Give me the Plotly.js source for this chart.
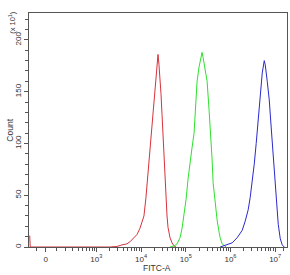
<!DOCTYPE html>
<html>
<head>
<meta charset="utf-8">
<script src="https://cdn.plot.ly/plotly-3.0.1.min.js"></script>
<style>html,body{margin:0;padding:0;background:#fff;}#chart{width:290px;height:275px;}</style>
</head>
<body>
<div id="chart"></div>
<script>
// FITC-A intensity given as log10 exponents (bin centres), counts in units of 10
const redLog = [1.509, 1.52, 3.303, 3.460, 3.572, 3.684, 3.751, 3.818, 3.908, 3.975, 4.020, 4.065, 4.110, 4.155, 4.200, 4.244, 4.289, 4.334, 4.357, 4.379, 4.401, 4.424, 4.446, 4.469, 4.491, 4.513, 4.536, 4.558, 4.581, 4.603, 4.648, 4.693, 4.738, 4.783];
const redCount = [11, 0, 0, 0.5, 2, 3, 5, 8, 12, 18, 24, 30, 48, 72, 95, 115, 142, 168, 180, 186, 176, 164, 148, 128, 106, 92, 70, 46, 30, 19, 9, 4, 1, 0];

const greenLog = [4.648, 4.738, 4.805, 4.872, 4.917, 4.962, 5.007, 5.052, 5.096, 5.141, 5.186, 5.231, 5.253, 5.298, 5.343, 5.365, 5.388, 5.433, 5.478, 5.522, 5.567, 5.590, 5.612, 5.657, 5.702, 5.747, 5.769, 5.814, 5.859, 5.904];
const greenCount = [0, 1, 3, 9, 18, 30, 46, 66, 84, 96, 110, 140, 160, 174, 184, 188, 183, 172, 160, 132, 104, 84, 62, 42, 26, 14, 9, 3, 1, 0];

const blueLog = [5.769, 5.836, 5.926, 6.038, 6.150, 6.262, 6.330, 6.397, 6.442, 6.487, 6.532, 6.576, 6.621, 6.666, 6.711, 6.756, 6.778, 6.823, 6.868, 6.912, 6.957, 7.002, 7.047, 7.069, 7.114, 7.159, 7.204];
const blueCount = [0, 1, 2, 4, 9, 16, 25, 36, 48, 62, 80, 100, 125, 148, 168, 180, 176, 160, 142, 115, 88, 62, 40, 22, 8, 2, 0];

// axis ticks (display scale: "0" sits at 10^1.868 on the log scale)
const xTickVals = [73.8, 1e3, 1e4, 1e5, 1e6, 1e7];
const xTickText = ['0', '10<sup>3</sup>', '10<sup>4</sup>', '10<sup>5</sup>', '10<sup>6</sup>', '10<sup>7</sup>'];
const xMinorVals = [46, 128, 200, 300, 400, 500, 600, 700, 800, 900,
  2e3, 3e3, 4e3, 5e3, 6e3, 7e3, 8e3, 9e3,
  2e4, 3e4, 4e4, 5e4, 6e4, 7e4, 8e4, 9e4,
  2e5, 3e5, 4e5, 5e5, 6e5, 7e5, 8e5, 9e5,
  2e6, 3e6, 4e6, 5e6, 6e6, 7e6, 8e6, 9e6, 1.5e7];
const yTickVals = [0, 50, 100, 150, 200];

const toX = arr => arr.map(v => Math.pow(10, v));
const font = 'Liberation Sans, Arial, sans-serif';

const traces = [
  {x: toX(redLog), y: redCount, mode: 'lines', line: {color: '#d8323c', width: 1}, hoverinfo: 'skip'},
  {x: toX(greenLog), y: greenCount, mode: 'lines', line: {color: '#2ee02e', width: 1}, hoverinfo: 'skip'},
  {x: toX(blueLog), y: blueCount, mode: 'lines', line: {color: '#2a2acc', width: 1}, hoverinfo: 'skip'}
];

const layout = {
  width: 290, height: 275,
  margin: {l: 29, r: 3, t: 13, b: 28},
  paper_bgcolor: '#fff', plot_bgcolor: '#fff',
  showlegend: false,
  font: {family: font, size: 8, color: '#333'},
  xaxis: {
    type: 'log', range: [1.493, 7.265],
    tickmode: 'array', tickvals: xTickVals, ticktext: xTickText,
    ticks: 'outside', ticklen: 4, tickcolor: '#555', tickwidth: 1,
    showline: true, linecolor: '#555', linewidth: 1, mirror: true,
    showgrid: false, zeroline: false,
    tickfont: {family: font, size: 8, color: '#333'},
    minor: {tickmode: 'array', tickvals: xMinorVals, ticks: 'outside', ticklen: 3, tickcolor: '#555', showgrid: false}
  },
  yaxis: {
    range: [0, 226],
    tickmode: 'array', tickvals: yTickVals,
    ticks: 'outside', ticklen: 4, tickcolor: '#555', tickwidth: 1,
    tickangle: -90,
    showline: true, linecolor: '#555', linewidth: 1, mirror: true,
    showgrid: false, zeroline: false,
    tickfont: {family: font, size: 8, color: '#333'},
    minor: {dtick: 10, ticks: 'outside', ticklen: 3, tickcolor: '#555', showgrid: false}
  },
  annotations: [
    {text: 'FITC-A', xref: 'paper', yref: 'paper', x: 0.496, y: -0.088, xanchor: 'center', yanchor: 'middle', showarrow: false, font: {family: font, size: 8.5, color: '#333'}},
    {text: 'Count', xref: 'paper', yref: 'paper', x: -0.075, y: 0.50, xanchor: 'center', yanchor: 'middle', textangle: -90, showarrow: false, font: {family: font, size: 8.5, color: '#333'}},
    {text: '(x 10<sup>1</sup>)', xref: 'paper', yref: 'paper', x: -0.066, y: 0.962, xanchor: 'center', yanchor: 'middle', textangle: -90, showarrow: false, font: {family: font, size: 7.5, color: '#333'}}
  ]
};

Plotly.newPlot('chart', traces, layout, {staticPlot: true, displayModeBar: false});
</script>
</body>
</html>
